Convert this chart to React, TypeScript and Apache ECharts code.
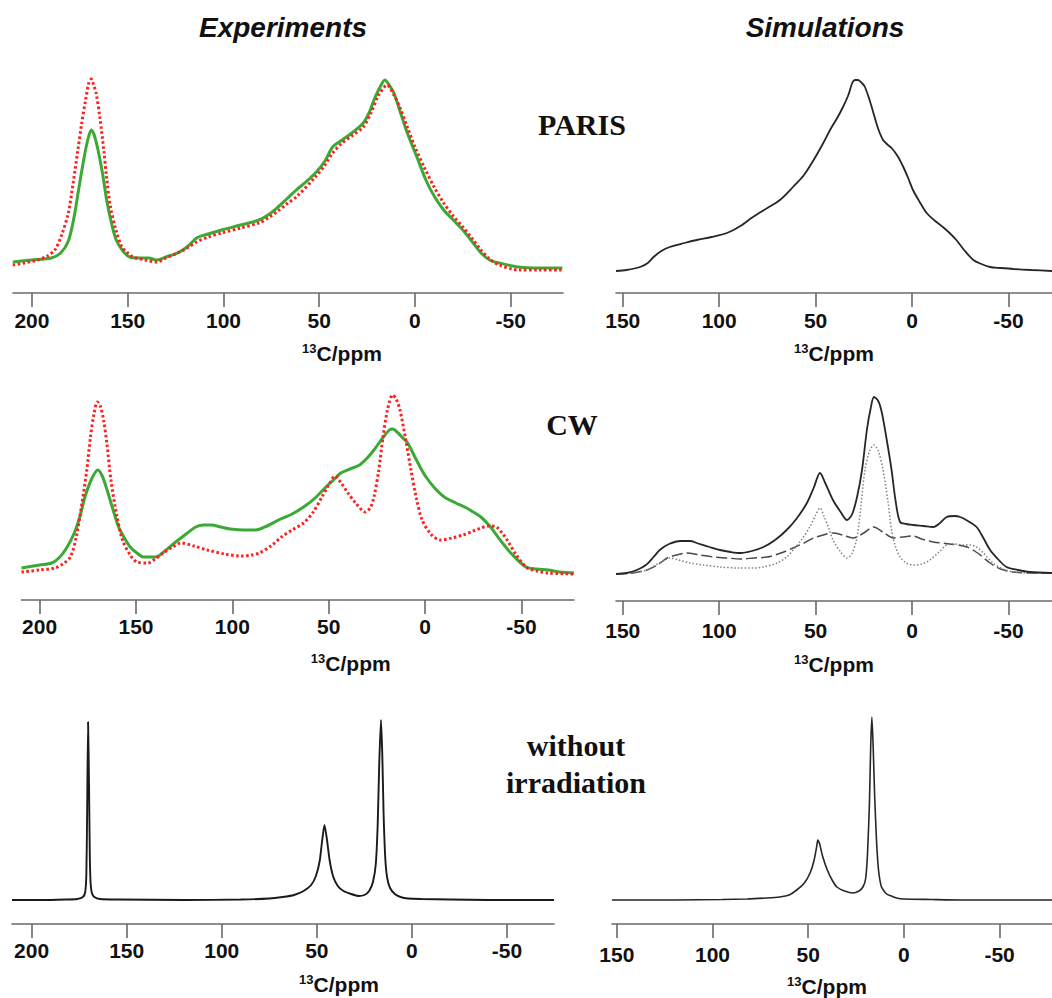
import React, { useEffect, useRef } from "react";
import * as echarts from "echarts";

const ticksExp = [200, 150, 100, 50, 0, -50];
const ticksSim = [150, 100, 50, 0, -50];
const columnTitles = ["Experiments", "Simulations"];
const rowLabels = ["PARIS", "CW", "without", "irradiation"];

// [ppm, intensity (a.u.)]
const parisExpGreen = [[210,31],[200,33],[190,35],[185,40],[181,52],[178,76],[175.5,105],[173,133],[171,152],[169,163],[167.5,158],[165.5,143],[163,118],[161,93],[158.5,70],[156,53],[152.5,42],[149,36],[144,35],[139,35],[135,33],[130,36],[124,40],[119,46],[114,55],[108,59],[101,63],[91,68],[81.5,73],[76,79],[71.5,86],[67,94],[62,103],[57,111],[52,120],[47,132],[43,146],[38,153],[33,160],[27,170],[24,180],[21.4,193],[18.5,205],[15.7,213],[13.5,208],[11,200],[7.5,180],[4,160],[-1,136],[-5.7,113],[-10,97],[-15,83],[-20,73],[-25,63],[-30,51],[-34.5,40],[-39,33],[-44,30],[-54,26],[-65,25],[-77,25]];
const parisExpRed = [[210,28],[204,30],[197,33],[192,37],[188,43],[184.5,58],[181,80],[178.5,110],[176,143],[174,170],[172,193],[170.3,210],[169,214],[167.8,208],[166.5,200],[164.5,175],[162.5,143],[161,115],[159,86],[156,62],[153,46],[150,40],[147,36],[141,33],[135,31],[130,35],[124,40],[119,45],[114,51],[108,56],[101,60],[91,65],[81.5,70],[76,76],[71.5,82],[67,89],[62,96],[52,116],[47,128],[43,140],[38,150],[33,157],[27,166],[23,180],[19,198],[16,206],[14.6,208],[11,198],[8,186],[4,166],[0,146],[-5,125],[-10,106],[-15,90],[-20,77],[-25,66],[-30,54],[-34.5,43],[-39,34],[-44,28],[-54,23],[-65,23],[-77,23]];
const parisSim = [[153.5,22],[148,23],[141,26],[137,30],[134,36],[130,42],[125.6,46],[118,50],[111.6,53],[104,56],[96,60],[89,67],[82.5,76],[75,85],[68.5,93],[61.7,106],[56,118],[51,133],[46,150],[42.5,163],[38.5,176],[35.8,186],[33,198],[31,210],[29.5,213],[28,213],[26,210],[24.4,206],[22,193],[20,180],[17.5,164],[15,153],[12.5,148],[10.6,145],[7.5,137],[4.5,126],[2,115],[-0.5,103],[-4,91],[-7.6,80],[-12,72],[-16,66],[-19.5,60],[-23,53],[-27,43],[-31.8,33],[-36,29],[-40.5,26],[-46,25],[-52.6,24],[-62,23],[-72.6,22]];
const cwExpGreen = [[209.4,32],[200,35],[193.7,37],[190,42],[186,52],[182,67],[179,84],[176.5,103],[173,121],[169.8,130],[167.5,124],[165,110],[162,91],[159,73],[156,62],[153,53],[149.5,47],[146,43],[140,43],[135,49],[130,57],[124,66],[119,73],[115,75],[111,75],[106,73],[101,71],[94,70],[88,70],[82,74],[76,80],[69,86],[63,93],[57,102],[51.4,113],[47,121],[43.7,127],[39,131],[34,135],[30,142],[26.5,150],[22,162],[18.5,170],[16.8,171],[14,167],[11.5,162],[9,157],[5,142],[2,131],[-0.5,123],[-5,112],[-10,103],[-16,97],[-21.6,92],[-25,88],[-29,83],[-34,73],[-39,60],[-45,46],[-52.4,33],[-58,31],[-64,30],[-70,28],[-77.3,27]];
const cwExpRed = [[209.4,28],[200,30],[192,32],[188,36],[184,43],[181,63],[178,97],[175.5,130],[173.6,163],[171.8,186],[170,198],[168.5,194],[166.8,180],[165,155],[163,120],[160,85],[157,60],[153,45],[149.5,38],[143.8,37],[140,41],[136,47],[131,53],[126.4,57],[120,54],[113,50],[104,46],[95.5,44],[90,45],[86,47],[80,54],[74.5,63],[69,70],[63,77],[58,88],[53.5,103],[50,115],[46.7,124],[43.5,117],[40,107],[36,97],[31,88],[28.5,92],[26.5,103],[24,130],[21.8,163],[19.5,190],[16.8,205],[15,201],[13,190],[10,160],[7.3,130],[4.5,102],[1.5,80],[-3,66],[-8,60],[-14,62],[-19.7,65],[-25,69],[-29,72],[-33,74],[-37,73],[-40,67],[-42.6,60],[-47,46],[-52.4,33],[-58,29],[-64,27],[-77.3,26]];
const cwSimTotal = [[153.5,27],[148,28],[142.7,31],[138,36],[134,44],[130.8,51],[126,57],[120,60],[115,60],[111.6,58],[105,54],[99.6,51],[94,49],[89,48],[83,50],[77,54],[71,61],[65,71],[60,82],[54.5,98],[51,113],[47.7,128],[45,118],[41,101],[37,89],[33.7,81],[31,87],[28.5,104],[26,130],[23.4,171],[21.5,192],[19.7,204],[17.5,200],[15.6,188],[13,160],[10.6,131],[8.5,100],[6.2,79],[3,77],[-0.5,76],[-6,75],[-11,74],[-14.5,78],[-18,84],[-22,85],[-25,84],[-29,80],[-33.5,74],[-37,63],[-40.5,51],[-45,41],[-49,34],[-55,31],[-61,29],[-72.6,28]];
const cwSimDash = [[153.5,27],[145,28],[137.5,31],[132,36],[127,43],[122,46],[116.8,48],[110,46],[103,44],[96,43],[89,42],[82,43],[75,44],[68,48],[61.7,53],[56,58],[51,63],[46,66],[41,68],[36,66],[30.6,63],[25,68],[20,74],[15,69],[9.7,63],[5,64],[-0.5,65],[-5,62],[-11,59],[-19.7,57],[-28.5,54],[-34,48],[-40.5,38],[-46,32],[-52.6,29],[-62,28],[-72.6,28]];
const cwSimDot = [[153.5,27],[145,28],[137.5,31],[132,37],[128,41],[125.6,43],[121,41],[115,38],[108,36],[99.6,34],[89,33],[82,33],[77,34],[70,38],[65,44],[61.7,51],[57,62],[53,74],[50,86],[47.7,93],[45.5,84],[43,72],[41,61],[37,49],[33.7,43],[31,48],[28.5,64],[26.5,95],[24.4,131],[22,150],[19.7,156],[17.5,150],[15,131],[12.5,100],[10.6,71],[8.5,54],[6.2,44],[3,38],[-0.5,36],[-5,37],[-9.3,41],[-14,49],[-18,56],[-22,57],[-26.5,56],[-30,56],[-33.5,54],[-37,48],[-42,38],[-47,32],[-52.6,29],[-62,28],[-72.6,28]];
const noIrrExp = [[210.3,24],[195,24],[182,24.5],[176,25],[173,27],[171.8,32],[171.2,50],[170.8,110],[170.3,202],[169.8,140],[169.4,70],[169,42],[168.3,31],[167,27],[164,25],[155,24.5],[120,24],[90,24.5],[75,25.5],[68,27],[62,29],[57,33],[53,39],[50.5,48],[48.5,63],[47.3,82],[46,99],[44.8,86],[43.3,64],[41.5,48],[39,38],[36,33],[32,30],[28,28],[25,29],[22.5,33],[20.5,42],[19,60],[18,100],[17.2,160],[16.3,204],[15.6,170],[14.9,110],[14,65],[13,46],[11.5,36],[9,30],[6,27],[2,25.5],[-5,25],[-20,24.5],[-40,24],[-74.7,24]];
const noIrrSim = [[152.5,24],[120,24],[95,24.5],[82,25],[72,26],[65,27],[60,29],[56,34],[52,41],[49,51],[47,63],[45.5,78],[45,84],[44,80],[42.5,68],[40,54],[37.5,44],[35,37],[31,33],[26.6,31],[23.5,33],[21.4,37],[20,45],[19,70],[18,120],[17.3,180],[16.7,207],[16,175],[15.3,130],[14.3,84],[13.3,55],[11.7,37],[9,30],[6,27.5],[3.8,26],[0,25],[-14,24.5],[-30,24],[-77.4,24]];

const SANS = '"Liberation Sans", Arial, sans-serif';
const SERIF = '"Liberation Serif", "Times New Roman", serif';

const panels = [
  { left: 13, width: 550, top: 63, axisY: 293, min: -77.3, max: 209.9, ticks: ticksExp, shift: 54, margin: 17, gap: 49 },
  { left: 616, width: 436, top: 63, axisY: 293, min: -72.6, max: 153.5, ticks: ticksSim, shift: 0, margin: 17, gap: 49 },
  { left: 21.5, width: 552.5, top: 370, axisY: 600, min: -77.3, max: 209.4, ticks: ticksExp, shift: 53, margin: 16, gap: 52 },
  { left: 616, width: 436, top: 371, axisY: 601, min: -72.6, max: 153.5, ticks: ticksSim, shift: 0, margin: 19, gap: 52 },
  { left: 12, width: 542, top: 694, axisY: 924, min: -74.7, max: 210.3, ticks: ticksExp, shift: 56, margin: 16, gap: 49 },
  { left: 612, width: 440, top: 694, axisY: 924, min: -77.4, max: 152.5, ticks: ticksSim, shift: -5, margin: 20, gap: 51 },
];

export default function App() {
  const ref = useRef<HTMLDivElement>(null);
  useEffect(() => {
    const chart = echarts.init(ref.current!, null, { renderer: "svg" });
    const grid = panels.map((p) => ({ left: p.left, top: p.top, width: p.width, height: p.axisY - p.top }));
    const xAxis = panels.map((p, i) => ({
      type: "value",
      gridIndex: i,
      inverse: true,
      min: p.min,
      max: p.max,
      name: "{s|13}{m|C/ppm}",
      nameLocation: "middle",
      nameGap: p.gap,
      nameTextStyle: {
        color: "#111",
        padding: p.shift >= 0 ? [0, 0, 0, 2 * p.shift] : [0, -2 * p.shift, 0, 0],
        rich: {
          s: { fontSize: 13, fontWeight: "bold", fontFamily: SANS, color: "#111", verticalAlign: "top", lineHeight: 14 },
          m: { fontSize: 21, fontWeight: "bold", fontFamily: SANS, color: "#111", lineHeight: 23 },
        },
      },
      axisLine: { show: true, onZero: false, lineStyle: { color: "#6a6a6a", width: 1.6 } },
      axisTick: { show: true, inside: false, length: 14, customValues: p.ticks, lineStyle: { color: "#6a6a6a", width: 1.6 } },
      axisLabel: { show: true, customValues: p.ticks, margin: p.margin, fontSize: 21, fontWeight: "bold", fontFamily: SANS, color: "#111" },
      splitLine: { show: false },
    }));
    const yAxis = panels.map((p, i) => ({ type: "value", gridIndex: i, min: 0, max: p.axisY - p.top, show: false }));
    const line = (data: number[][], idx: number, color: string, width: number, type: any, smooth: number) => ({
      type: "line",
      xAxisIndex: idx,
      yAxisIndex: idx,
      data,
      symbol: "none",
      smooth,
      lineStyle: { color, width, type },
      silent: true,
    });
    const series = [
      line(parisExpGreen, 0, "#3aa935", 3, "solid", 0.3),
      line(parisExpRed, 0, "#ff1f1f", 3, [2.5, 2.5], 0.3),
      line(parisSim, 1, "#262626", 1.8, "solid", 0.3),
      line(cwExpGreen, 2, "#3aa935", 3, "solid", 0.3),
      line(cwExpRed, 2, "#ff1f1f", 3, [2.5, 2.5], 0.3),
      line(cwSimDash, 3, "#4a4a4a", 1.5, [11, 4], 0.3),
      line(cwSimDot, 3, "#808080", 1.5, [1.5, 2], 0.3),
      line(cwSimTotal, 3, "#262626", 1.8, "solid", 0.3),
      line(noIrrExp, 4, "#1a1a1a", 1.9, "solid", 0.2),
      line(noIrrSim, 5, "#262626", 1.6, "solid", 0.2),
    ];
    const title = (text: string, x: number) => ({
      type: "text", x, y: 27, silent: true,
      style: { text, fill: "#111", font: `italic bold 28px ${SANS}`, textAlign: "center", textVerticalAlign: "middle" },
    });
    const label = (text: string, x: number, y: number) => ({
      type: "text", x, y, silent: true,
      style: { text, fill: "#111", font: `bold 30px ${SERIF}`, textAlign: "center", textVerticalAlign: "middle" },
    });
    chart.setOption({
      animation: false,
      backgroundColor: "#ffffff",
      grid,
      xAxis,
      yAxis,
      series,
      graphic: [
        title(columnTitles[0], 283),
        title(columnTitles[1], 825),
        label(rowLabels[0], 582, 124),
        label(rowLabels[1], 572, 424),
        label(rowLabels[2], 576, 745),
        label(rowLabels[3], 576, 782),
      ],
    });
    return () => chart.dispose();
  }, []);
  return <div ref={ref} style={{ position: "fixed", left: 0, top: 0, width: 1052, height: 998, background: "#fff" }} />;
}
